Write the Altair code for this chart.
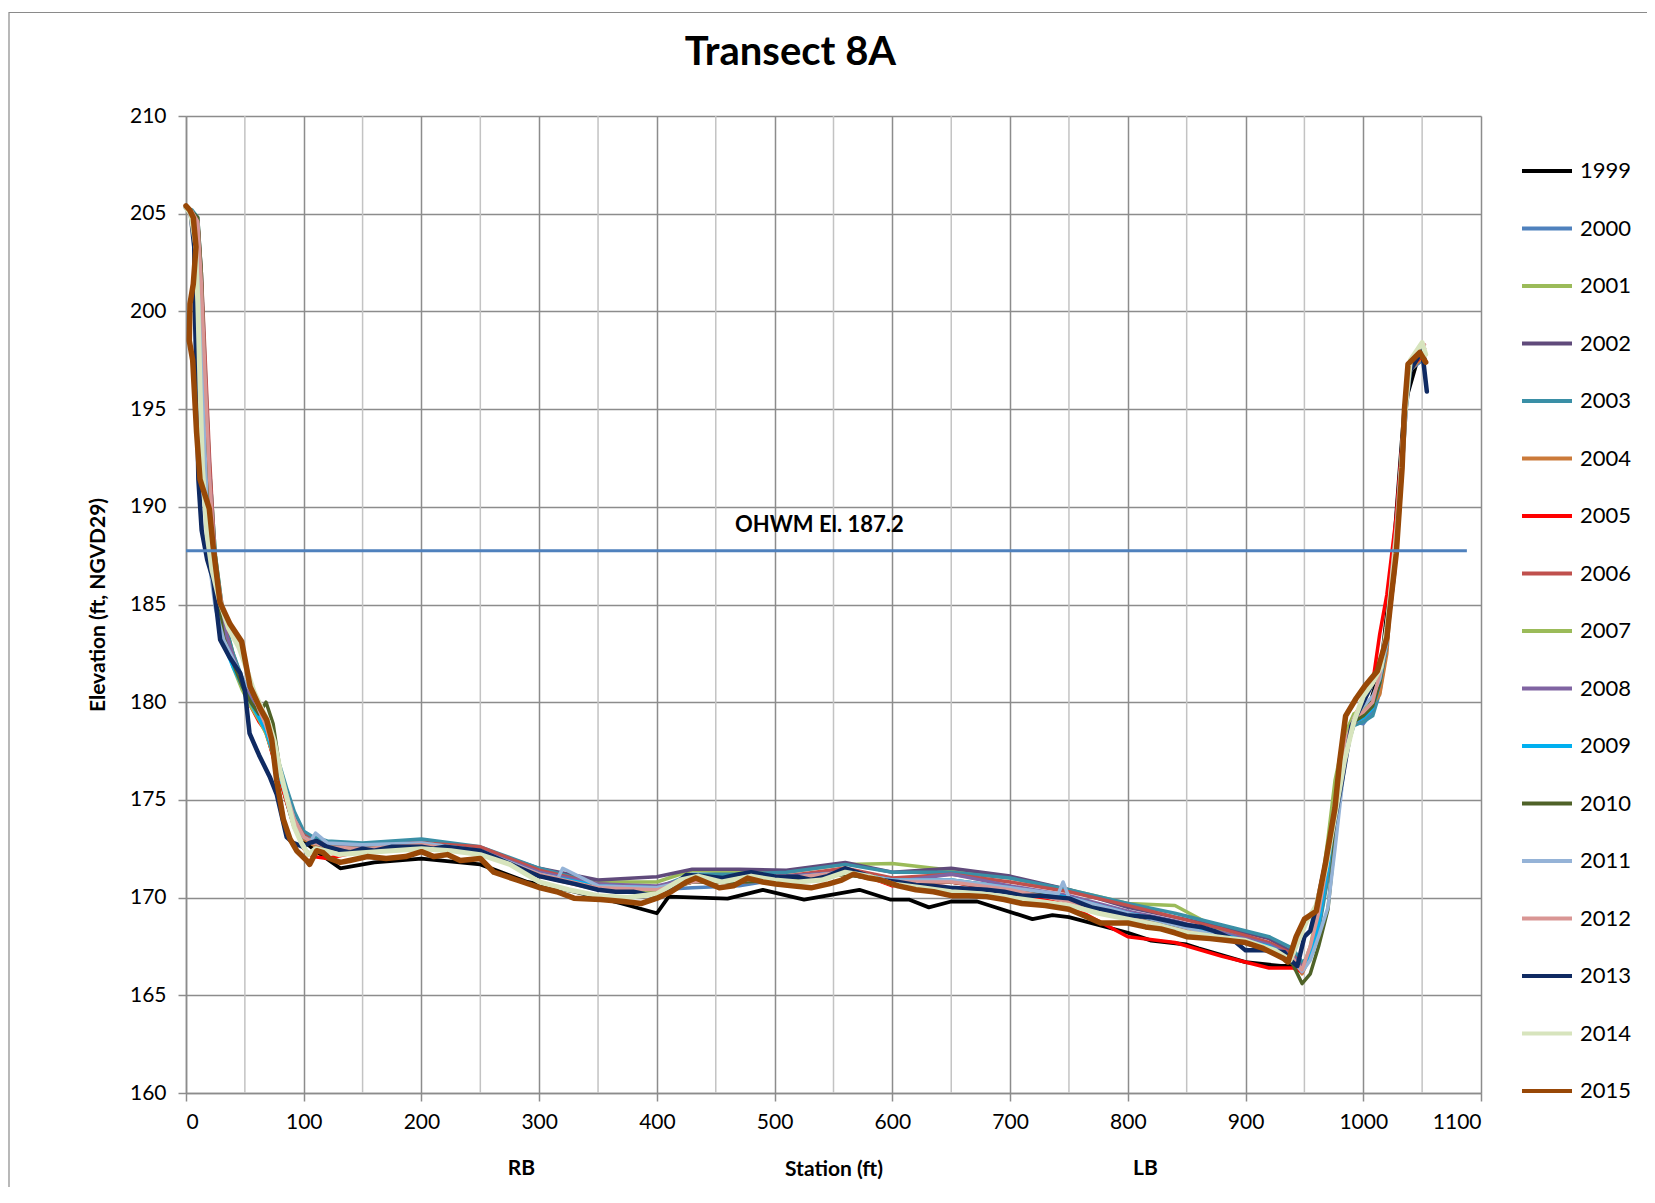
import altair as alt
import pandas as pd

# ---------------- data ----------------
years = ["1999", "2000", "2001", "2002", "2003", "2004", "2005", "2006", "2007",
         "2008", "2009", "2010", "2011", "2012", "2013", "2014", "2015"]
colors = ["#000000", "#4F81BD", "#9BBB59", "#604A7B", "#3A8FA6", "#CB7A3A", "#FF0000",
          "#C0504D", "#9BBB59", "#8064A2", "#00B0F0", "#4F6228", "#95B3D7", "#D99694",
          "#0F2A62", "#D7E4BD", "#984807"]
widths = [3.8, 3.5, 3.5, 3.5, 3.5, 3.5, 3.5, 3.5, 3.5, 3.5, 3.5, 3.5, 3.5, 3.5, 4.5, 5, 5.5]

stations_a = [0, 5, 10, 13, 16, 20, 25, 32, 40, 48,
              55, 62, 68, 74, 80, 86, 92, 100, 108, 120,
              150, 200, 250, 300, 350, 400, 430, 470, 510, 560,
              600, 650, 700, 750, 800, 840, 880, 920, 940, 948,
              955, 962, 970, 976, 984, 992, 1000, 1008, 1014, 1020,
              1024, 1028, 1032, 1036, 1040, 1046, 1052]

x_1999 = [0, 5, 10, 13, 16, 20, 25, 32, 40, 48, 55, 62, 68, 74, 80, 86, 92, 100, 110, 131,
          160, 200, 250, 290, 330, 370, 400, 410, 460, 490, 525, 572, 598, 614, 631, 650, 672,
          719, 736, 750, 800, 820, 850, 860, 900, 930, 950, 957, 965, 975, 990, 1005, 1015,
          1025, 1035, 1045, 1052]
y_1999 = [205.3, 205.1, 204.3, 200.0, 195.0, 190.0, 186.3, 183.8, 182.3, 181.0,
          180.0, 179.3, 178.6, 177.3, 176.1, 174.8, 173.6, 172.9, 172.4, 171.5,
          171.8, 172.0, 171.7, 170.8, 170.3, 169.7, 169.2, 170.05, 169.95, 170.4,
          169.9, 170.4, 169.9, 169.9, 169.5, 169.8, 169.8, 168.9, 169.1, 169.0,
          168.2, 167.8, 167.6, 167.4, 166.7, 166.5, 166.5, 167.2, 169.5, 174.5,
          179.0, 179.8, 181.8, 187.2, 195.2, 197.3, 197.6]

y_2000 = [205.3, 205.1, 204.5, 200.5, 195.5, 190.5, 186.5, 183.8, 182.2, 180.9,
          180.1, 179.3, 178.5, 177.3, 176.1, 174.9, 173.8, 173.0, 172.8, 172.6,
          172.5, 172.7, 172.3, 171.2, 170.6, 170.4, 170.5, 170.6, 171.0, 171.2,
          170.8, 170.8, 170.5, 170.0, 169.2, 168.6, 168.0, 167.4, 166.9, 166.2,
          167.0, 168.5, 171.5, 174.5, 177.3, 179.0, 178.9, 179.5, 180.8, 183.5,
          186.5, 189.0, 192.5, 195.5, 197.0, 197.3, 197.6]
y_2001 = [205.3, 205.1, 204.6, 201.5, 197.0, 192.0, 187.5, 184.3, 182.5, 181.1,
          180.3, 179.5, 178.7, 177.6, 176.4, 175.2, 174.0, 173.2, 173.0, 172.8,
          172.7, 172.9, 172.5, 171.4, 170.8, 170.8, 171.4, 171.3, 171.3, 171.7,
          171.75, 171.4, 171.0, 170.4, 169.7, 169.6, 168.3, 167.6, 167.0, 166.3,
          167.3, 169.0, 172.5, 175.5, 178.0, 179.3, 179.5, 180.0, 181.3, 183.2,
          186.0, 188.5, 192.0, 195.5, 197.2, 197.6, 197.9]
y_2002 = [205.3, 205.1, 204.6, 201.0, 196.2, 191.2, 187.0, 184.2, 182.4, 181.0,
          180.2, 179.4, 178.6, 177.4, 176.2, 175.0, 173.9, 173.2, 173.0, 172.8,
          172.7, 172.9, 172.5, 171.5, 170.9, 171.07, 171.45, 171.45, 171.4, 171.8,
          171.3, 171.5, 171.1, 170.4, 169.5, 169.0, 168.5, 167.9, 167.2, 166.5,
          167.2, 168.8, 171.8, 174.8, 177.6, 179.1, 179.3, 179.8, 181.0, 183.0,
          186.0, 188.5, 192.0, 195.5, 197.2, 197.6, 197.8]
y_2003 = [205.3, 205.2, 204.8, 202.0, 197.5, 192.0, 187.5, 184.3, 182.5, 181.2,
          180.3, 179.5, 178.8, 177.8, 176.7, 175.5, 174.4, 173.4, 173.1, 172.9,
          172.8, 173.0, 172.6, 171.5, 170.7, 170.5, 171.2, 171.2, 171.3, 171.7,
          171.3, 171.3, 171.0, 170.4, 169.7, 169.2, 168.6, 168.0, 167.4, 166.7,
          167.0, 168.3, 171.0, 174.0, 177.3, 178.8, 179.0, 179.3, 180.5, 182.8,
          185.8, 188.3, 191.8, 195.3, 197.0, 197.5, 197.8]
y_2004 = [205.3, 205.1, 204.5, 200.8, 195.8, 190.8, 186.6, 183.8, 182.2, 180.9,
          180.0, 179.2, 178.4, 177.3, 176.0, 174.8, 173.7, 173.0, 172.7, 172.5,
          172.4, 172.6, 172.3, 171.1, 170.4, 170.3, 170.8, 170.8, 170.9, 171.2,
          170.8, 170.8, 170.4, 169.9, 169.1, 168.6, 168.0, 167.4, 166.8, 166.1,
          167.0, 168.6, 171.6, 174.6, 177.5, 178.9, 179.4, 179.9, 180.4, 182.5,
          185.8, 188.3, 191.8, 195.3, 197.0, 197.4, 197.7]
y_2005 = [205.3, 205.1, 204.6, 201.5, 197.0, 191.0, 186.5, 183.6, 182.0, 180.7,
          179.8, 179.0, 178.5, 177.2, 176.0, 174.8, 173.7, 172.5, 172.1, 172.0,
          172.4, 172.6, 172.3, 171.1, 170.5, 170.4, 170.8, 170.8, 171.0, 171.5,
          170.6, 170.8, 170.3, 169.6, 168.0, 167.7, 167.0, 166.4, 166.4, 166.2,
          167.2, 169.0, 172.5, 175.5, 178.0, 179.3, 180.0, 181.0, 183.5, 185.5,
          187.5, 189.5, 192.5, 195.5, 197.2, 197.5, 197.8]
y_2006 = [205.3, 205.1, 204.6, 202.0, 198.0, 192.5, 187.0, 184.0, 182.3, 181.0,
          180.2, 179.4, 178.6, 177.5, 176.3, 175.1, 174.0, 173.2, 172.9, 172.7,
          172.6, 172.8, 172.6, 171.4, 170.7, 170.5, 170.9, 171.0, 171.1, 171.5,
          171.0, 171.2, 170.8, 170.3, 169.6, 169.0, 168.4, 167.7, 167.1, 166.4,
          167.2, 168.8, 171.8, 174.8, 177.6, 179.0, 179.2, 179.7, 181.0, 183.5,
          186.5, 189.0, 192.3, 195.6, 197.3, 197.8, 198.1]
y_2007 = [205.3, 205.1, 204.6, 201.0, 196.0, 190.5, 186.0, 183.3, 181.8, 180.6,
          179.8, 179.1, 178.4, 177.3, 176.2, 175.0, 173.9, 173.1, 172.9, 172.7,
          172.6, 172.8, 172.4, 171.2, 170.5, 170.3, 170.8, 170.9, 171.0, 171.3,
          170.9, 170.9, 170.5, 170.0, 169.2, 168.7, 168.1, 167.5, 166.9, 166.3,
          167.5, 169.5, 173.0, 176.0, 178.3, 179.4, 179.6, 180.0, 181.2, 183.2,
          186.0, 188.5, 192.0, 195.5, 197.2, 197.6, 197.9]
y_2008 = [205.3, 205.1, 204.6, 201.2, 196.5, 191.5, 186.8, 183.9, 182.3, 181.0,
          180.2, 179.4, 178.6, 177.4, 176.2, 175.0, 173.9, 173.1, 172.9, 172.7,
          172.6, 172.8, 172.4, 171.3, 170.7, 170.6, 171.0, 171.0, 171.1, 171.3,
          170.8, 171.2, 170.6, 170.1, 169.3, 168.8, 168.2, 167.6, 167.0, 166.4,
          167.3, 168.7, 171.7, 174.7, 177.5, 179.0, 179.2, 179.7, 181.0, 183.0,
          186.0, 188.5, 192.0, 195.5, 197.2, 197.6, 197.8]
y_2009 = [205.3, 205.1, 204.4, 199.0, 193.0, 187.5, 185.0, 183.0, 181.8, 180.8,
          180.0, 179.2, 178.5, 177.4, 176.2, 175.0, 173.9, 173.1, 172.8, 172.6,
          172.5, 172.7, 172.3, 171.2, 170.6, 170.5, 170.8, 170.9, 171.0, 171.3,
          170.9, 170.9, 170.5, 170.0, 169.2, 168.7, 168.1, 167.5, 166.9, 166.3,
          167.1, 168.6, 171.6, 174.6, 177.4, 179.0, 179.2, 179.7, 181.0, 183.0,
          186.0, 188.5, 192.0, 195.5, 197.2, 197.6, 197.8]
y_2010 = [205.3, 205.1, 204.8, 202.0, 196.5, 190.5, 186.0, 183.3, 182.0, 180.8,
          180.0, 179.4, 180.0, 178.9, 176.5, 175.1, 173.9, 173.1, 172.8, 172.6,
          172.5, 172.7, 172.3, 171.1, 170.5, 170.4, 170.8, 170.8, 170.9, 171.2,
          170.8, 170.8, 170.4, 169.9, 169.1, 168.5, 168.0, 167.3, 166.6, 165.6,
          166.1, 167.5, 169.4, 173.0, 177.0, 179.0, 179.3, 179.8, 181.0, 183.0,
          186.0, 188.5, 192.0, 195.5, 197.2, 197.6, 197.8]

x_2011 = [0, 5, 10, 13, 16, 20, 25, 32, 40, 48, 55, 62, 68, 74, 80, 86, 92, 100, 106, 110,
          120, 150, 200, 250, 300, 316, 320, 350, 400, 430, 470, 510, 560, 600, 650, 700,
          741, 745, 750, 800, 840, 880, 920, 940, 948, 955, 962, 970, 976, 984, 992, 1000,
          1008, 1014, 1020, 1024, 1028, 1032, 1036, 1040, 1046, 1052]
y_2011 = [205.3, 205.1, 204.5, 199.5, 193.0, 187.0, 184.8, 183.2, 182.2, 181.2,
          180.6, 179.7, 178.8, 177.6, 176.4, 175.2, 174.0, 173.1, 172.9, 173.3,
          172.8, 172.7, 172.8, 172.4, 171.2, 171.0, 171.5, 170.6, 170.5, 170.9,
          171.0, 171.0, 171.3, 170.9, 170.9, 170.5, 170.2, 170.8, 170.0, 169.2,
          168.6, 168.0, 167.4, 166.8, 166.2, 166.8, 168.0, 169.5, 172.5, 176.8,
          179.2, 179.8, 180.3, 181.2, 183.0, 186.0, 188.5, 192.0, 195.5, 197.2,
          197.6, 197.9]

y_2012 = [205.3, 205.1, 204.6, 201.5, 197.0, 191.5, 187.0, 184.5, 183.3, 182.8,
          180.8, 179.6, 178.8, 177.6, 176.4, 175.1, 174.0, 173.1, 172.8, 172.6,
          172.5, 172.7, 172.3, 171.2, 170.5, 170.4, 170.8, 170.9, 171.0, 171.3,
          170.8, 170.8, 170.4, 169.8, 169.0, 168.4, 167.9, 167.4, 166.9, 166.3,
          167.5, 169.2, 172.0, 175.0, 177.8, 179.2, 179.5, 180.0, 181.5, 183.8,
          186.5, 189.0, 192.2, 195.7, 197.4, 197.9, 198.3]

x_2013 = [0, 4, 7, 7.5, 9, 10.5, 13.3, 18, 23, 29, 37, 46, 50, 54, 62, 71, 77, 85.5, 91, 99.6,
          105, 111, 119.5, 139, 150, 160, 175, 190, 200, 210, 220, 235, 250, 265, 280, 300,
          315, 330, 350, 365, 380, 400, 415, 425, 438, 456, 470, 480, 501, 519, 531, 545, 560,
          575, 590, 605, 620, 635, 649, 665, 680, 695, 710, 725, 750, 769, 785, 799, 819, 835,
          850, 862, 873, 888, 900, 918, 933, 938, 944, 950, 955, 960, 966, 974, 982, 990,
          1000, 1008, 1014, 1020, 1026, 1030, 1036, 1040, 1046, 1050, 1054]
y_2013 = [205.3, 205.0, 203.3, 200.0, 196.5, 191.4, 188.8, 187.3, 186.3, 183.2,
          182.3, 181.5, 180.6, 178.4, 177.3, 176.2, 175.3, 173.1, 172.8, 172.6,
          172.8, 172.9, 172.6, 172.3, 172.5, 172.4, 172.6, 172.6, 172.6, 172.5,
          172.6, 172.5, 172.4, 172.0, 171.6, 171.1, 170.9, 170.7, 170.4, 170.3,
          170.3, 170.05, 170.7, 171.16, 171.1, 171.0, 171.2, 171.3, 171.07, 171.07,
          170.9, 171.1, 171.5, 171.2, 170.9, 170.8, 170.65, 170.6, 170.5, 170.45,
          170.4, 170.3, 170.1, 170.1, 169.96, 169.5, 169.3, 169.1, 169.0, 168.8,
          168.6, 168.5, 168.3, 167.9, 167.3, 167.3, 167.2, 166.8, 166.5, 168.0,
          168.3, 169.5, 171.2, 173.4, 176.0, 178.8, 180.0, 181.0, 181.8, 183.5,
          186.5, 189.5, 195.0, 197.0, 197.6, 198.0, 195.9]

x_2014 = [0, 4, 8, 10, 12, 14, 18, 22, 28, 36, 45, 52, 58, 65, 70, 75, 80, 86, 92, 98,
          104, 110, 118, 130, 150, 175, 200, 225, 250, 275, 300, 325, 350, 375, 400, 420,
          435, 455, 480, 500, 520, 540, 560, 580, 600, 625, 650, 675, 700, 725, 750, 775,
          800, 825, 850, 875, 900, 925, 938, 945, 952, 960, 968, 976, 984, 992, 1000, 1008,
          1015, 1020, 1025, 1030, 1035, 1040, 1050, 1053]
y_2014 = [205.3, 205.0, 203.5, 200.5, 196.0, 192.0, 188.5, 186.8, 185.3, 183.8,
          182.8, 181.6, 180.5, 179.6, 179.0, 178.0, 176.5, 175.0, 173.6, 172.8,
          172.2, 172.5, 172.4, 172.2, 172.3, 172.4, 172.5, 172.4, 172.2, 171.7,
          170.8, 170.4, 170.1, 170.0, 170.2, 170.9, 171.1, 170.8, 171.1, 170.9,
          170.8, 170.9, 171.3, 171.1, 170.7, 170.5, 170.3, 170.2, 170.0, 169.8,
          169.6, 169.2, 168.9, 168.6, 168.2, 168.0, 167.8, 167.3, 166.8, 167.8,
          168.8, 169.6, 171.5, 174.2, 177.0, 179.0, 180.3, 181.0, 181.8, 183.8,
          186.5, 189.5, 194.5, 197.5, 198.4, 197.8]

x_2015 = [0, 3, 6.2, 8.5, 6.2, 3.4, 2.8, 5.7, 9, 11.9, 19.8, 23, 28.9, 37.4, 47.3, 54.4,
          62.9, 68.5, 72.8, 77, 82.7, 88.3, 94, 102.5, 105, 111, 116.6, 122, 131, 139, 154,
          170, 186.5, 200, 210.6, 222, 233, 250, 261.5, 281, 301, 315, 329.5, 352, 371.6,
          387, 400, 412, 425, 433, 453, 465, 477, 490, 501, 515, 531, 546, 557, 567, 580,
          590, 605, 620, 635, 650, 665, 680, 695, 710, 730, 750, 762, 777, 800, 815, 828,
          840, 850, 870, 885, 900, 915, 932, 936, 943, 950, 960, 968, 976, 980, 985, 994,
          1001, 1012, 1020, 1024, 1028, 1033, 1035, 1038, 1048, 1053]
y_2015 = [205.4, 205.2, 204.8, 203.3, 201.4, 200.4, 198.5, 197.5, 193.8, 191.4,
          189.9, 188.0, 185.1, 184.0, 183.1, 180.8, 179.7, 179.1, 178.1, 176.0,
          174.0, 173.0, 172.4, 171.9, 171.7, 172.4, 172.3, 172.0, 171.8, 171.9,
          172.1, 172.0, 172.1, 172.35, 172.1, 172.2, 171.9, 172.0, 171.3, 170.9,
          170.5, 170.3, 169.97, 169.9, 169.8, 169.7, 169.97, 170.3, 170.8, 171.0,
          170.5, 170.6, 171.0, 170.8, 170.7, 170.6, 170.5, 170.7, 170.9, 171.2,
          171.0, 170.9, 170.6, 170.4, 170.3, 170.1, 170.1, 170.05, 169.9, 169.7,
          169.6, 169.4, 169.1, 168.7, 168.7, 168.5, 168.4, 168.2, 168.0, 167.9,
          167.8, 167.7, 167.4, 166.9, 166.7, 168.0, 168.9, 169.3, 171.8, 174.6,
          177.0, 179.3, 180.2, 180.8, 181.6, 183.3, 185.5, 187.6, 192.0, 195.0,
          197.3, 197.9, 197.4]

series_x = {"1999": x_1999, "2011": x_2011, "2013": x_2013, "2014": x_2014, "2015": x_2015}
series_y = {"1999": y_1999, "2000": y_2000, "2001": y_2001, "2002": y_2002, "2003": y_2003,
            "2004": y_2004, "2005": y_2005, "2006": y_2006, "2007": y_2007, "2008": y_2008,
            "2009": y_2009, "2010": y_2010, "2011": y_2011, "2012": y_2012, "2013": y_2013,
            "2014": y_2014, "2015": y_2015}

minor_stations = [50, 150, 250, 350, 450, 550, 650, 750, 850, 950, 1050]
ohwm_elev = 187.75
ohwm_start, ohwm_end = 0, 1088
ohwm_label = "OHWM El. 187.2"
ohwm_label_station, ohwm_label_elev = 538, 189.05
bank_labels = ["RB", "LB"]
bank_stations = [285, 815]
chart_title = "Transect 8A"

# ---------------- build table ----------------
rows = []
for yr, w in zip(years, widths):
    ys = series_y[yr]
    xs = series_x.get(yr, stations_a)
    for i, (sx, sy) in enumerate(zip(xs, ys)):
        rows.append({"year": yr, "station": sx, "elev": sy, "idx": i, "w": w})
df = pd.DataFrame(rows)

W, H = 1295, 977
FONT = "Lato"
xscale = alt.Scale(domain=[0, 1100], nice=False, zero=False)
yscale = alt.Scale(domain=[160, 210], nice=False, zero=False)

x_axis = alt.Axis(values=list(range(0, 1101, 100)), format="d", title="Station (ft)",
                  titleY=76, titleBaseline="middle", labelPadding=10)
y_axis = alt.Axis(values=list(range(160, 211, 5)), format="d", title="Elevation (ft, NGVD29)",
                  titleX=-88, titleY=H / 2, titleBaseline="middle", titleAngle=-90,
                  labelPadding=12)

minor = alt.Chart(pd.DataFrame({"station": minor_stations})).mark_rule(
    color="#c3c3c3", strokeWidth=1.5
).encode(
    x=alt.X("station:Q", scale=xscale, axis=x_axis),
    y=alt.value(0), y2=alt.value(H)
)

lines = alt.Chart(df).mark_line(strokeJoin="round", strokeCap="round").encode(
    x=alt.X("station:Q", scale=xscale, axis=x_axis),
    y=alt.Y("elev:Q", scale=yscale, axis=y_axis),
    color=alt.Color("year:N", scale=alt.Scale(domain=years, range=colors),
                    legend=alt.Legend(title=None, orient="none", legendX=1334, legendY=28,
                                      symbolType="stroke", symbolSize=2500,
                                      symbolStrokeWidth=4, labelFontSize=22,
                                      labelFont=FONT, labelColor="#000000",
                                      rowPadding=19.5, padding=0, labelOffset=6)),
    strokeWidth=alt.StrokeWidth("w:Q", scale=None),
    order=alt.Order("idx:Q"),
)

ohwm_df = pd.DataFrame({"station": [ohwm_start], "station2": [ohwm_end], "elev": [ohwm_elev]})
ohwm = alt.Chart(ohwm_df).mark_rule(color="#4F81BD", strokeWidth=3).encode(
    x=alt.X("station:Q", scale=xscale), x2="station2:Q",
    y=alt.Y("elev:Q", scale=yscale)
)
ohwm_text = alt.Chart(pd.DataFrame({"station": [ohwm_label_station], "elev": [ohwm_label_elev],
                                    "t": [ohwm_label]})).mark_text(
    font=FONT, fontSize=22, fontWeight="bold", color="#000000", baseline="middle"
).encode(x=alt.X("station:Q", scale=xscale), y=alt.Y("elev:Q", scale=yscale), text="t:N")

banks = alt.Chart(pd.DataFrame({"station": bank_stations, "t": bank_labels})).mark_text(
    font=FONT, fontSize=21, fontWeight="bold", color="#000000", baseline="middle"
).encode(x=alt.X("station:Q", scale=xscale), y=alt.value(H + 76), text="t:N")

title = alt.Chart(pd.DataFrame({"t": [chart_title]})).mark_text(
    font=FONT, fontSize=40, fontWeight="bold", color="#000000", baseline="middle", align="center"
).encode(x=alt.value(W / 2 - 43), y=alt.value(-63), text="t:N")

frame = alt.Chart(pd.DataFrame({"k": [0]})).mark_rect(
    fill=None, fillOpacity=0, stroke="#8a8a8a", strokeWidth=1.2
).encode(x=alt.value(-177), x2=alt.value(W + 400), y=alt.value(-103.5), y2=alt.value(H + 400))

chart = alt.layer(minor, lines, ohwm, ohwm_text, banks, title, frame).properties(
    width=W, height=H,
    autosize=alt.AutoSizeParams(type="none"),
    padding={"left": 178, "top": 108, "right": 166, "bottom": 94},
).configure_view(stroke=None).configure_axis(
    gridColor="#8c8c8c", gridWidth=1.5, domainColor="#8c8c8c", domainWidth=1.5,
    tickColor="#8c8c8c", tickWidth=1.5, tickSize=8,
    labelFont=FONT, labelFontSize=21, labelColor="#000000",
    titleFont=FONT, titleFontSize=21, titleFontWeight="bold", titleColor="#000000",
).configure_legend(labelFont=FONT)

chart.save("out.html", embed_options={"renderer": "svg", "actions": False})
